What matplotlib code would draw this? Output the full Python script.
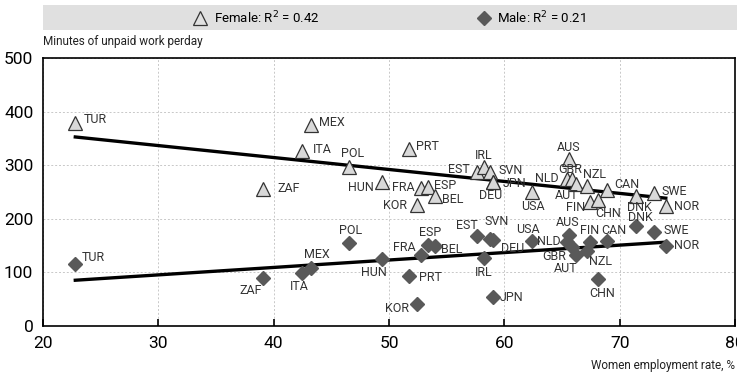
import numpy as np
import matplotlib
matplotlib.use("Agg")
import matplotlib.pyplot as plt

plt.rcParams["font.family"] = ["Roboto", "DejaVu Sans"]

countries = ["TUR", "ZAF", "ITA", "MEX", "POL", "HUN", "PRT", "KOR", "FRA", "ESP",
             "BEL", "EST", "IRL", "SVN", "DEU", "JPN", "USA", "AUS", "NLD", "GBR",
             "AUT", "NZL", "FIN", "CHN", "CAN", "DNK", "SWE", "NOR"]
employment = [22.8, 39.1, 42.5, 43.2, 46.5, 49.4, 51.7, 52.4, 52.8, 53.4,
              54.0, 57.6, 58.2, 58.8, 59.0, 59.0, 62.4, 65.6, 65.4, 65.9,
              66.2, 67.2, 67.4, 68.1, 68.9, 71.4, 73.0, 74.0]
female_minutes = [378, 256, 327, 375, 296, 268, 330, 226, 258, 259,
                  243, 287, 296, 288, 268, 269, 250, 312, 274, 275,
                  265, 261, 231, 236, 253, 243, 248, 223]
male_minutes = [115, 89, 99, 108, 155, 125, 93, 41, 132, 152,
                149, 167, 127, 163, 160, 54, 158, 170, 157, 147,
                133, 140, 157, 87, 158, 186, 175, 150]

# label offsets in pixels (dx, dy, horizontal alignment)
female_offsets = {
    "TUR": (8, 4, "left"), "ZAF": (14, 0, "left"), "ITA": (10, 1, "left"),
    "MEX": (8, 3, "left"), "POL": (4, 14, "center"), "HUN": (-8, -5, "right"),
    "PRT": (7, 3, "left"), "KOR": (-10, -1, "right"), "FRA": (-7, 0, "right"),
    "ESP": (6, 2, "left"), "BEL": (7, -4, "left"), "EST": (-7, 3, "right"),
    "IRL": (0, 12, "center"), "SVN": (8, 1, "left"), "DEU": (-2, -13, "center"),
    "JPN": (10, -2, "left"), "USA": (1, -15, "center"), "AUS": (0, 11, "center"),
    "NLD": (-8, 1, "right"), "GBR": (-2, 9, "center"), "AUT": (-9, -12, "center"),
    "NZL": (7, 12, "center"), "FIN": (-5, -5, "right"), "CHN": (10, -14, "center"),
    "CAN": (7, 6, "left"), "DNK": (4, -12, "center"), "SWE": (7, 2, "left"),
    "NOR": (8, 0, "left"),
}
male_offsets = {
    "TUR": (6, 7, "left"), "ZAF": (-13, -12, "center"), "ITA": (-3, -14, "center"),
    "MEX": (6, 14, "center"), "POL": (2, 12, "center"), "HUN": (-8, -14, "center"),
    "PRT": (10, -1, "left"), "KOR": (-8, -4, "right"), "FRA": (-6, 8, "right"),
    "ESP": (2, 12, "center"), "BEL": (6, -3, "left"), "EST": (-10, 11, "center"),
    "IRL": (0, -15, "center"), "SVN": (6, 17, "center"), "DEU": (8, -8, "left"),
    "JPN": (7, 0, "left"), "USA": (-4, 12, "center"), "AUS": (-1, 12, "center"),
    "NLD": (-6, 0, "right"), "GBR": (-6, -9, "right"), "AUT": (-10, -14, "center"),
    "NZL": (13, -11, "center"), "FIN": (0, 11, "center"), "CHN": (4, -14, "center"),
    "CAN": (7, 11, "center"), "DNK": (5, 9, "center"), "SWE": (9, 2, "left"),
    "NOR": (8, 0, "left"),
}

tri_face = "#d9d9d9"
diamond_col = "#595959"
label_col = "#333333"

fig = plt.figure(figsize=(7.37, 3.76), dpi=100)
ax = fig.add_axes([43 / 737, 1 - 326 / 376, 692 / 737, 268 / 376])

x = np.array(employment)
yf = np.array(female_minutes)
ym = np.array(male_minutes)

# linear trends
xs = np.array([x.min(), x.max()])
for y in (yf, ym):
    b, a = np.polyfit(x, y, 1)
    ax.plot(xs, a + b * xs, color="black", lw=2.4, zorder=2)

ax.plot(x, yf, ls="none", marker="^", ms=10, mfc=tri_face, mec="#333333",
        mew=0.9, zorder=3)
ax.plot(x, ym, ls="none", marker="D", ms=7, mfc=diamond_col, mec=diamond_col,
        zorder=3)

for c, xi, f, m in zip(countries, employment, female_minutes, male_minutes):
    dx, dy, ha = female_offsets[c]
    ax.annotate(c, (xi, f), xytext=(dx, dy), textcoords="offset pixels",
                ha=ha, va="center", fontsize=9, color=label_col, zorder=4)
    dx, dy, ha = male_offsets[c]
    ax.annotate(c, (xi, m), xytext=(dx, dy), textcoords="offset pixels",
                ha=ha, va="center", fontsize=9, color=label_col, zorder=4)

ax.set_xlim(20, 80)
ax.set_ylim(0, 500)
ax.set_xticks(range(20, 81, 10))
ax.set_yticks(range(0, 501, 100))
ax.grid(True, color="#c8c8c8", ls=(0, (2, 2)), lw=0.7)
ax.set_axisbelow(True)
ax.tick_params(axis="x", direction="in", length=5, width=1.2, labelsize=12.5, pad=7)
ax.tick_params(axis="y", length=0, labelsize=12.5, pad=7)
for s in ax.spines.values():
    s.set_linewidth(1.2)

fig.text(43 / 737, 1 - 42 / 376, "Minutes of unpaid work perday", fontsize=8.5,
         ha="left", va="center", color="#222222")
fig.text(735 / 737, 1 - 366 / 376, "Women employment rate, %", fontsize=8.5,
         ha="right", va="center", color="#222222")

# legend band
leg = fig.add_axes([43 / 737, 1 - 30 / 376, 694 / 737, 25 / 376])
leg.set_facecolor("#e0e0e0")
leg.set_xlim(0, 1)
leg.set_ylim(0, 1)
leg.set_xticks([])
leg.set_yticks([])
for s in leg.spines.values():
    s.set_visible(False)
leg.plot([(200 - 43) / 694], [0.5], marker="^", ms=10, mfc="#e0e0e0",
         mec="#333333", mew=0.9, ls="none")
leg.text((214 - 43) / 694, 0.5, "Female: R$^2$ = 0.42", fontsize=9.5,
         va="center", ha="left")
leg.plot([(484 - 43) / 694], [0.5], marker="D", ms=7, mfc=diamond_col,
         mec=diamond_col, ls="none")
leg.text((497 - 43) / 694, 0.5, "Male: R$^2$ = 0.21", fontsize=9.5,
         va="center", ha="left")

fig.savefig("out.png", dpi=100)
